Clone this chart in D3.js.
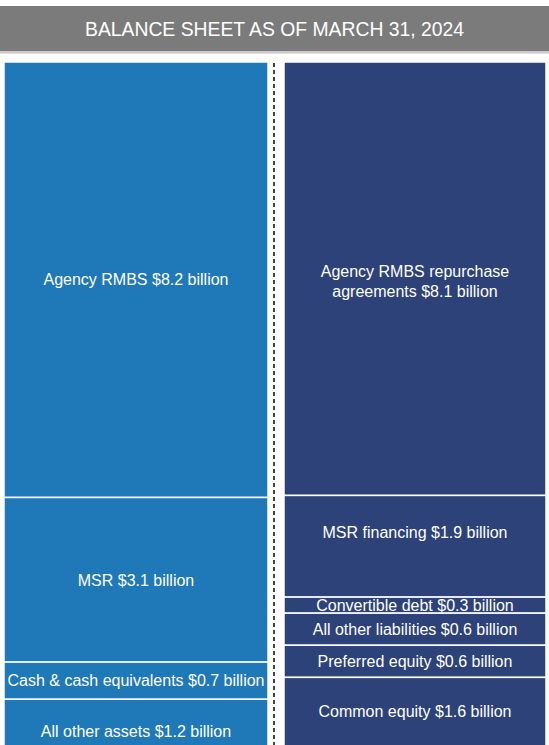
<!DOCTYPE html>
<html>
<head>
<meta charset="utf-8">
<script src="https://cdn.jsdelivr.net/npm/d3@7"></script>
<style>
  html, body { margin: 0; padding: 0; background: #ffffff; }
  svg { display: block; }
</style>
</head>
<body>
<svg id="chart" width="549" height="745"></svg>
<script>
// ---- data ----
const title = "BALANCE SHEET AS OF MARCH 31, 2024";
const assetCategories = ["Agency RMBS", "MSR", "Cash & cash equivalents", "All other assets"];
const assetValues = [8.2, 3.1, 0.7, 1.2];
const liabilityCategories = ["Agency RMBS repurchase agreements", "MSR financing", "Convertible debt", "All other liabilities", "Preferred equity", "Common equity"];
const liabilityValues = [8.1, 1.9, 0.3, 0.6, 0.6, 1.6];
const unitLabel = "billion";

// ---- styles / layout ----
const W = 549, H = 745;
const colTop = 62, colBottom = 763;
const columns = [
  { cats: assetCategories, vals: assetValues, x0: 4, x1: 268, color: "#1f78b7",
    labelNudge: {} },
  { cats: liabilityCategories, vals: liabilityValues, x0: 284, x1: 546, color: "#2c4279",
    labelNudge: { "MSR financing": -14, "Common equity": -9, "Agency RMBS repurchase agreements": 3 } }
];
const font = "'Liberation Sans', Arial, Helvetica, sans-serif";

const svg = d3.select("#chart");

// title bar
svg.append("rect").attr("x", 0).attr("y", 6).attr("width", W).attr("height", 45).attr("fill", "#7b7b7b");
svg.append("rect").attr("x", 0).attr("y", 51).attr("width", W).attr("height", 2.5).attr("fill", "#c9c9c9");
svg.append("text")
  .attr("x", W / 2).attr("y", 36)
  .attr("text-anchor", "middle")
  .attr("fill", "#ffffff")
  .attr("font-family", "'Liberation Sans Narrow', 'Liberation Sans', Arial, sans-serif")
  .attr("font-size", 21)
  .attr("textLength", 379)
  .attr("lengthAdjust", "spacingAndGlyphs")
  .text(title);

// divider
svg.append("line")
  .attr("x1", 274).attr("x2", 274)
  .attr("y1", 63).attr("y2", H)
  .attr("stroke", "#444").attr("stroke-width", 2)
  .attr("stroke-dasharray", "4,3");

columns.forEach(col => {
  const total = d3.sum(col.vals);
  const y = d3.scaleLinear().domain([0, total]).range([colTop, colBottom]);
  const x = d3.scaleLinear().domain([0, 1]).range([col.x0, col.x1]);
  const cum = d3.cumsum(col.vals);
  const segs = col.vals.map((v, i) => ({ cat: col.cats[i], v, start: cum[i] - v, end: cum[i] }));

  const g = svg.append("g");
  g.selectAll("rect").data(segs).join("rect")
    .attr("x", x(0)).attr("width", x(1) - x(0))
    .attr("y", d => y(d.start)).attr("height", d => y(d.end) - y(d.start))
    .attr("fill", col.color)
    .attr("stroke", "#ffffff").attr("stroke-width", 1.5);

  const maxW = x(1) - x(0) - 2;
  segs.forEach(d => {
    const label = `${d.cat} $${d.v.toFixed(1)} ${unitLabel}`;
    const cy = (y(d.start) + y(d.end)) / 2 + (col.labelNudge[d.cat] || 0);
    const t = g.append("text")
      .attr("text-anchor", "middle")
      .attr("fill", "#ffffff")
      .attr("font-family", font)
      .attr("font-size", 16);
    // greedy wrap
    const words = label.split(" ");
    const lines = [];
    let cur = [];
    const probe = t.append("tspan");
    words.forEach(w => {
      const test = cur.concat([w]).join(" ");
      probe.text(test);
      if (probe.node().getComputedTextLength() > maxW && cur.length) {
        lines.push(cur.join(" "));
        cur = [w];
      } else cur.push(w);
    });
    lines.push(cur.join(" "));
    probe.remove();
    const lh = 20;
    lines.forEach((ln, i) => {
      t.append("tspan")
        .attr("x", (x(0) + x(1)) / 2)
        .attr("y", cy + (i - (lines.length - 1) / 2) * lh)
        .attr("dy", "0.36em")
        .text(ln);
    });
  });
});
</script>
</body>
</html>
